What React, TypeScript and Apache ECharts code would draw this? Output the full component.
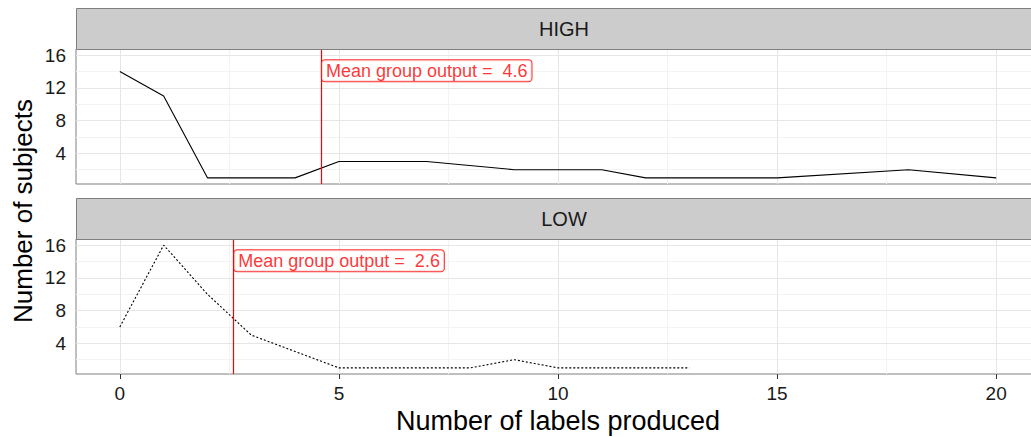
import React, { useEffect, useRef } from "react";
import * as echarts from "echarts";

const panels = ["HIGH", "LOW"];
const xHigh = [0, 1, 2, 3, 4, 5, 6, 7, 9, 10, 11, 12, 13, 14, 15, 18, 20];
const yHigh = [14, 11, 1, 1, 1, 3, 3, 3, 2, 2, 2, 1, 1, 1, 1, 2, 1];
const xLow = [0, 1, 2, 3, 4, 5, 6, 7, 8, 9, 10, 11, 12, 13];
const yLow = [6, 16, 10, 5, 3, 1, 1, 1, 1, 2, 1, 1, 1, 1];
const means = [4.6, 2.6];
const labelY = 14.1;
const yTicks = [4, 8, 12, 16];
const yMinor = [2, 6, 10, 14];
const xTicks = [0, 5, 10, 15, 20];
const xMinor = [2.5, 7.5, 12.5, 17.5];

const FONT = "'Liberation Sans', Arial, sans-serif";

export default function App() {
  const ref = useRef<HTMLDivElement>(null);
  useEffect(() => {
    const chart = echarts.init(ref.current!, null, { renderer: "svg" });
    const tops = [49, 239];
    const stripTops = [8, 198];
    const ph = 135;
    const seriesX = [xHigh, xLow];
    const seriesY = [yHigh, yLow];

    const grids = tops.map((t) => ({
      left: 76,
      width: 964,
      top: t,
      height: ph,
      show: true,
      backgroundColor: "#ffffff",
      borderColor: "#7f7f7f",
      borderWidth: 1,
    }));

    const xAxes = tops.map((_, i) => ({
      type: "value",
      gridIndex: i,
      min: -1,
      max: 21,
      axisLine: { show: false },
      splitLine: { show: false },
      axisTick: {
        show: i === 1,
        length: 5,
        customValues: xTicks,
        lineStyle: { color: "#333" },
      },
      axisLabel: {
        show: i === 1,
        customValues: xTicks,
        fontSize: 19,
        color: "#1a1a1a",
        fontFamily: FONT,
        margin: 10,
      },
    }));

    const yAxes = tops.map((_, i) => ({
      type: "value",
      gridIndex: i,
      min: 0.25,
      max: 16.75,
      axisLine: { show: false },
      splitLine: { show: false },
      axisTick: {
        show: true,
        length: 5,
        customValues: yTicks,
        lineStyle: { color: "#333" },
      },
      axisLabel: {
        customValues: yTicks,
        fontSize: 19,
        color: "#1a1a1a",
        fontFamily: FONT,
        margin: 10,
      },
    }));

    const series: any[] = [];
    tops.forEach((_, i) => {
      // grid lines
      series.push({
        type: "line",
        xAxisIndex: i,
        yAxisIndex: i,
        data: [],
        z: 1,
        markLine: {
          silent: true,
          z: 1,
          symbol: ["none", "none"],
          label: { show: false },
          animation: false,
          data: [
            ...yMinor.map((v) => ({ yAxis: v, lineStyle: { color: "#f3f3f3", width: 1, type: "solid" } })),
            ...xMinor.map((v) => ({ xAxis: v, lineStyle: { color: "#f3f3f3", width: 1, type: "solid" } })),
            ...yTicks.map((v) => ({ yAxis: v, lineStyle: { color: "#e6e6e6", width: 1, type: "solid" } })),
            ...xTicks.map((v) => ({ xAxis: v, lineStyle: { color: "#e6e6e6", width: 1, type: "solid" } })),
          ],
        },
      });
      // data line
      series.push({
        type: "line",
        name: panels[i],
        xAxisIndex: i,
        yAxisIndex: i,
        z: 3,
        symbol: "none",
        data: seriesX[i].map((x, k) => [x, seriesY[i][k]]),
        lineStyle: { color: "#000", width: 1.1, type: i === 0 ? "solid" : [2, 2] },
      });
      // mean vertical line
      series.push({
        type: "line",
        xAxisIndex: i,
        yAxisIndex: i,
        data: [],
        z: 4,
        color: "#ff0000",
        markLine: {
          silent: true,
          z: 4,
          symbol: ["none", "none"],
          label: { show: false },
          animation: false,
          data: [
            { xAxis: means[i], lineStyle: { color: "#ff0000", width: 1.2, type: "solid", opacity: 1 } },
          ],
        },
      });
      // mean label
      series.push({
        type: "scatter",
        xAxisIndex: i,
        yAxisIndex: i,
        z: 6,
        symbolSize: 1,
        itemStyle: { color: "rgba(0,0,0,0)" },
        data: [[means[i], labelY]],
        label: {
          show: true,
          position: "right",
          distance: 0,
          formatter: `Mean group output =  ${means[i]}`,
          color: "#ff0000",
          fontSize: 18,
          fontFamily: FONT,
          backgroundColor: "#ffffff",
          borderColor: "#ff0000",
          borderWidth: 1,
          borderRadius: 3,
          padding: [2, 4, 1, 4],
        },
      });
    });

    const graphic: any[] = [];
    stripTops.forEach((t, i) => {
      graphic.push({
        type: "rect",
        shape: { x: 76.5, y: t + 0.5, width: 980, height: 41 },
        style: { fill: "#cccccc", stroke: "#7f7f7f", lineWidth: 1 },
        z: 10,
      });
      graphic.push({
        type: "text",
        x: 564,
        y: t + 21,
        style: {
          text: panels[i],
          fontSize: 20,
          fontFamily: FONT,
          fill: "#1a1a1a",
          align: "center",
          verticalAlign: "middle",
        },
        z: 11,
      });
    });
    graphic.push({
      type: "text",
      x: 558,
      y: 421,
      style: {
        text: "Number of labels produced",
        fontSize: 27,
        fontFamily: FONT,
        fill: "#000",
        align: "center",
        verticalAlign: "middle",
      },
    });
    graphic.push({
      type: "text",
      x: 23,
      y: 211,
      rotation: Math.PI / 2,
      style: {
        text: "Number of subjects",
        fontSize: 26,
        fontFamily: FONT,
        fill: "#000",
        align: "center",
        verticalAlign: "middle",
      },
    });

    chart.setOption({
      animation: false,
      backgroundColor: "#ffffff",
      grid: grids,
      xAxis: xAxes,
      yAxis: yAxes,
      series,
      graphic,
    });
    return () => chart.dispose();
  }, []);
  return (
    <div
      style={{ position: "fixed", left: 0, top: 0, width: 1031, height: 437, overflow: "hidden" }}
    >
      <div ref={ref} style={{ width: 1050, height: 437 }} />
    </div>
  );
}
